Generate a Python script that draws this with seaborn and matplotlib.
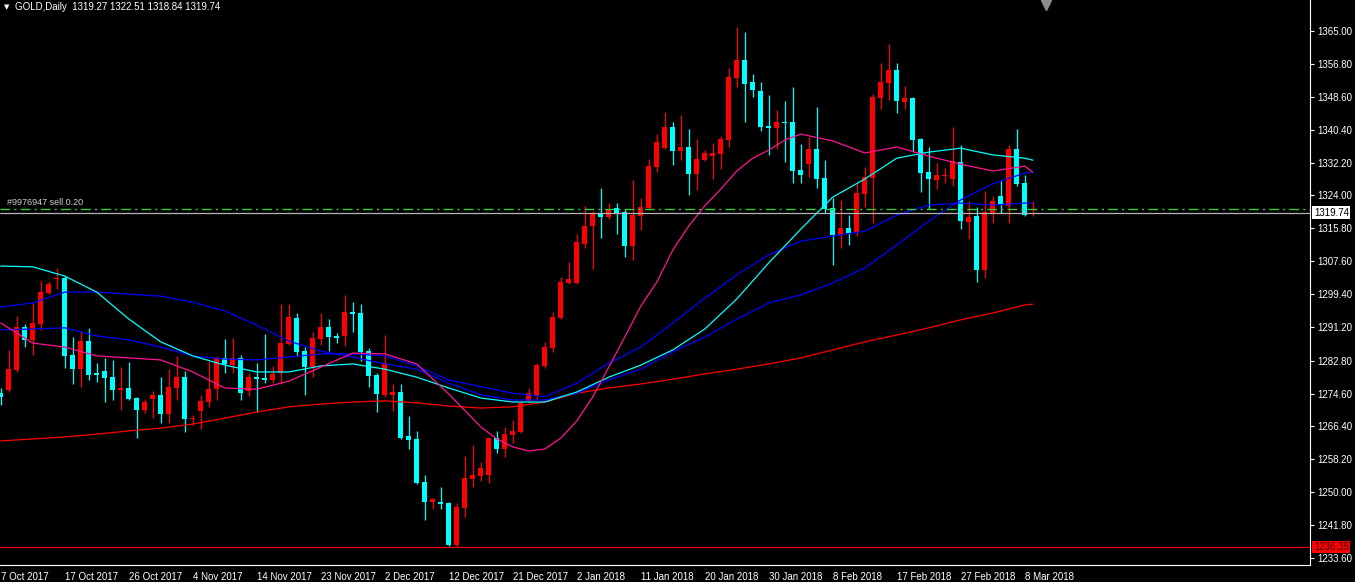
import seaborn as sns
import matplotlib.pyplot as plt

# ------------------------------ chart data ------------------------------------
# daily GOLD candles, one entry per bar (oldest first)
opens = [1274.7, 1275.5, 1280.5, 1291.2, 1288.0, 1292.0, 1299.7, 1303.2, 1303.4, 1284.2,
         1280.7, 1287.7, 1279.7, 1280.2, 1278.7, 1275.5, 1276.0, 1273.5, 1270.5, 1273.3,
         1274.3, 1269.5, 1276.0, 1278.7, 1268.3, 1270.3, 1272.5, 1275.8, 1283.5, 1281.7,
         1283.5, 1275.3, 1278.7, 1278.5, 1278.0, 1279.7, 1287.0, 1293.4, 1285.2, 1281.2,
         1288.2, 1291.2, 1289.0, 1289.0, 1294.9, 1294.7, 1285.2, 1279.2, 1274.3, 1274.3,
         1275.0, 1264.0, 1263.3, 1252.6, 1247.6, 1247.6, 1247.3, 1236.9, 1246.1, 1253.3,
         1254.1, 1254.3, 1263.5, 1260.8, 1264.3, 1265.0, 1272.8, 1274.0, 1281.5, 1286.0,
         1293.4, 1302.2, 1302.2, 1311.9, 1316.4, 1319.6, 1318.6, 1320.9, 1319.9, 1311.4,
         1318.9, 1320.9, 1331.1, 1335.8, 1341.1, 1335.1, 1336.1, 1329.4, 1332.8, 1333.8,
         1334.3, 1337.8, 1353.3, 1357.8, 1352.3, 1350.0, 1341.3, 1340.8, 1342.3, 1342.3,
         1330.3, 1331.8, 1335.6, 1328.4, 1320.9, 1314.1, 1315.9, 1314.9, 1324.4, 1328.4,
         1348.3, 1352.0, 1355.3, 1347.3, 1348.3, 1338.1, 1329.8, 1327.9, 1328.9, 1328.1,
         1332.3, 1317.4, 1318.9, 1305.4, 1319.6, 1323.9, 1321.4, 1335.6, 1327.1, 1319.27]
highs = [1276.0, 1285.5, 1293.9, 1292.0, 1297.2, 1302.7, 1302.7, 1305.9, 1303.9, 1288.7,
         1290.2, 1291.0, 1282.2, 1283.5, 1283.0, 1281.2, 1282.5, 1273.8, 1273.3, 1275.3,
         1278.7, 1280.7, 1284.0, 1280.2, 1269.3, 1274.3, 1282.7, 1284.0, 1288.2, 1288.5,
         1284.2, 1279.7, 1282.2, 1289.5, 1281.5, 1296.9, 1296.9, 1294.7, 1286.2, 1290.0,
         1294.7, 1293.2, 1289.7, 1299.2, 1297.4, 1296.9, 1286.0, 1279.7, 1289.2, 1277.0,
         1277.0, 1269.0, 1265.3, 1254.3, 1248.6, 1251.3, 1247.6, 1247.3, 1259.0, 1261.8,
         1257.5, 1263.8, 1265.3, 1266.3, 1268.0, 1273.0, 1276.0, 1282.2, 1287.5, 1294.9,
         1303.7, 1307.4, 1314.4, 1321.4, 1320.1, 1325.9, 1322.1, 1322.1, 1320.6, 1327.9,
         1323.4, 1333.1, 1339.3, 1344.8, 1342.3, 1344.1, 1340.6, 1338.1, 1335.3, 1337.1,
         1338.8, 1355.8, 1366.0, 1364.8, 1354.3, 1352.3, 1349.0, 1345.3, 1347.6, 1351.0,
         1336.8, 1338.6, 1346.1, 1332.8, 1323.4, 1322.9, 1319.1, 1327.4, 1331.1, 1349.3,
         1357.0, 1361.8, 1357.0, 1351.3, 1348.5, 1338.3, 1336.1, 1332.1, 1330.8, 1341.1,
         1336.6, 1322.6, 1321.1, 1325.1, 1323.9, 1327.9, 1336.6, 1340.6, 1329.1, 1322.51]
lows = [1271.8, 1275.0, 1280.0, 1286.2, 1284.2, 1290.5, 1299.4, 1300.7, 1281.0, 1277.0,
        1276.3, 1278.0, 1277.5, 1272.5, 1273.0, 1270.5, 1273.0, 1263.5, 1269.8, 1268.5,
        1267.3, 1267.3, 1273.0, 1265.0, 1266.8, 1265.8, 1271.3, 1273.0, 1279.7, 1279.7,
        1273.0, 1274.0, 1270.0, 1277.3, 1277.3, 1277.0, 1286.7, 1284.0, 1274.3, 1278.7,
        1286.7, 1285.2, 1287.2, 1286.5, 1290.0, 1282.7, 1276.3, 1270.0, 1273.8, 1270.3,
        1263.3, 1260.8, 1252.1, 1243.1, 1245.8, 1245.8, 1236.6, 1236.35, 1243.8, 1251.3,
        1252.8, 1252.3, 1259.8, 1258.8, 1262.3, 1264.8, 1272.6, 1273.0, 1281.0, 1285.0,
        1293.2, 1302.0, 1301.9, 1310.9, 1305.7, 1313.4, 1318.1, 1314.4, 1308.7, 1307.9,
        1315.4, 1320.4, 1329.8, 1335.6, 1331.6, 1332.8, 1324.1, 1325.4, 1332.6, 1328.1,
        1330.6, 1336.1, 1351.0, 1342.3, 1348.5, 1340.1, 1334.1, 1335.6, 1332.3, 1327.1,
        1327.1, 1328.6, 1325.9, 1319.6, 1306.7, 1310.9, 1311.7, 1313.9, 1321.1, 1317.1,
        1345.6, 1347.8, 1344.6, 1345.6, 1335.1, 1324.9, 1320.6, 1325.6, 1327.1, 1326.4,
        1315.6, 1313.1, 1302.4, 1303.4, 1317.1, 1319.6, 1317.1, 1326.4, 1318.9, 1318.84]
closes = [1273.8, 1280.7, 1291.2, 1288.0, 1292.2, 1299.9, 1301.9, 1303.4, 1284.0, 1280.7,
          1287.7, 1279.2, 1279.2, 1278.5, 1275.5, 1276.0, 1273.3, 1270.5, 1272.5, 1274.3,
          1269.5, 1276.3, 1278.7, 1268.3, 1268.5, 1272.8, 1275.8, 1283.5, 1282.0, 1283.5,
          1274.7, 1278.7, 1278.2, 1278.0, 1279.5, 1287.2, 1293.7, 1285.0, 1281.2, 1288.5,
          1291.2, 1288.7, 1288.5, 1294.9, 1294.4, 1285.0, 1279.0, 1274.5, 1282.2, 1275.0,
          1263.5, 1263.0, 1252.3, 1247.6, 1248.3, 1247.1, 1236.9, 1246.3, 1253.6, 1254.3,
          1256.1, 1263.5, 1260.8, 1264.5, 1265.3, 1272.3, 1274.7, 1281.7, 1286.2, 1293.7,
          1302.4, 1303.2, 1312.4, 1316.4, 1319.6, 1318.6, 1320.6, 1319.6, 1311.4, 1319.1,
          1321.1, 1331.3, 1337.3, 1341.1, 1335.1, 1336.1, 1329.4, 1333.1, 1334.6, 1334.6,
          1338.1, 1353.5, 1357.8, 1351.8, 1350.3, 1341.1, 1340.8, 1342.3, 1342.1, 1330.1,
          1329.1, 1335.6, 1328.1, 1320.6, 1314.1, 1315.9, 1314.6, 1324.6, 1328.6, 1348.5,
          1352.3, 1355.3, 1347.5, 1348.3, 1337.8, 1329.6, 1328.1, 1329.1, 1329.1, 1332.6,
          1317.6, 1318.6, 1305.4, 1319.9, 1322.6, 1321.6, 1335.6, 1326.9, 1319.1, 1319.74]

# moving averages, every 4th bar
ma_bars = list(range(0, 129, 4)) + [129]
ma_cyan = [1306.4, 1306.2, 1303.9, 1299.9, 1293.2, 1287.5, 1284.0, 1281.7, 1280.0, 1280.0,
           1281.5, 1282.0, 1280.7, 1278.7, 1276.0, 1273.5, 1272.5, 1272.5, 1275.0, 1278.7,
           1281.7, 1285.5, 1290.7, 1298.2, 1307.2, 1315.6, 1323.6, 1328.1, 1333.3, 1334.8,
           1335.8, 1334.1, 1333.3, 1332.8]
ma_blue_slow = [1296.2, 1297.2, 1299.9, 1299.9, 1299.4, 1298.9, 1297.4, 1295.2, 1291.7, 1287.7,
                1285.2, 1283.7, 1282.0, 1280.7, 1277.2, 1274.3, 1273.0, 1273.0, 1274.7, 1278.0,
                1280.7, 1285.0, 1288.7, 1293.2, 1297.2, 1299.2, 1302.2, 1305.9, 1311.7, 1317.6,
                1322.9, 1326.9, 1329.6, 1329.8]
ma_blue_fast = [1290.5, 1290.7, 1291.0, 1289.0, 1288.0, 1286.2, 1284.0, 1283.2, 1283.0, 1283.7,
                1284.5, 1284.5, 1284.0, 1281.5, 1278.0, 1276.3, 1274.7, 1273.8, 1277.2, 1282.2,
                1286.2, 1292.2, 1298.4, 1304.2, 1309.2, 1312.6, 1313.9, 1315.1, 1319.1, 1321.6,
                1322.1, 1321.6, 1322.1, 1322.1]
ma_red = [1262.8, 1263.3, 1263.8, 1264.5, 1265.3, 1266.0, 1267.0, 1268.5, 1270.0, 1271.3,
          1272.0, 1272.5, 1272.8, 1272.3, 1271.5, 1271.0, 1271.3, 1272.5, 1274.7, 1276.0,
          1277.0, 1278.2, 1279.5, 1280.7, 1282.0, 1283.5, 1285.5, 1287.5, 1289.2, 1291.0,
          1293.0, 1294.7, 1296.7, 1296.9]
# the fast pink average bends sharply, so it is read every 2nd bar through the swing
pink_bars = list(range(0, 60, 4)) + list(range(60, 100, 2)) + list(range(100, 129, 4)) + [129]
ma_pink = [1292.2, 1287.2, 1286.2, 1284.0, 1283.5, 1283.0, 1280.0, 1276.0, 1275.7, 1277.7,
           1281.2, 1284.7, 1284.5, 1282.0, 1274.5,
           1266.3, 1263.3, 1261.3, 1260.3, 1260.8, 1263.5, 1267.8, 1273.8, 1281.2, 1288.7,
           1296.4, 1302.4, 1310.4, 1316.4, 1321.4, 1325.6, 1330.1, 1333.3, 1335.3, 1337.8,
           1339.3, 1337.6, 1334.6, 1336.1, 1333.8, 1331.8, 1330.1, 1331.3, 1329.8]

label_bars = list(range(0, 129, 8))
date_labels = ["7 Oct 2017", "17 Oct 2017", "26 Oct 2017", "4 Nov 2017", "14 Nov 2017",
               "23 Nov 2017", "2 Dec 2017", "12 Dec 2017", "21 Dec 2017", "2 Jan 2018",
               "11 Jan 2018", "20 Jan 2018", "30 Jan 2018", "8 Feb 2018", "17 Feb 2018",
               "27 Feb 2018", "8 Mar 2018"]
price_ticks = [1365.00, 1356.80, 1348.60, 1340.40, 1332.20, 1324.00, 1315.80, 1307.60,
               1299.40, 1291.20, 1282.80, 1274.60, 1266.40, 1258.20, 1250.00, 1241.80, 1233.60]

bid_price = 1319.74
order_price = 1320.5
low_line = 1236.35

# ------------------------------ plotting --------------------------------------
sns.set_style("dark")
plt.rcParams['font.family'] = ['Liberation Sans', 'DejaVu Sans']

fig = plt.figure(figsize=(13.55, 5.82), dpi=100, facecolor='black')
ax = fig.add_axes([0, 17 / 582, 1310 / 1355, 565 / 582])
ax.set_facecolor('black')

up_col = '#ff0000'
down_col = '#00ffff'
bars = list(range(len(opens)))
for i in bars:
    col = up_col if closes[i] >= opens[i] else down_col
    ax.vlines(i, lows[i], highs[i], color=col, lw=0.9, zorder=2)
    bottom = min(opens[i], closes[i])
    height = max(abs(closes[i] - opens[i]), 0.3)
    ax.bar(i, height, bottom=bottom, width=0.62, color=col, linewidth=0, zorder=3)

# moving averages on top of the candles
for xs, vals, col in [(ma_bars, ma_red, '#ff0000'), (ma_bars, ma_blue_slow, '#0000ff'),
                      (ma_bars, ma_blue_fast, '#0000ff'), (ma_bars, ma_cyan, '#00ffff'),
                      (pink_bars, ma_pink, '#ff1493')]:
    sns.lineplot(x=xs, y=vals, color=col, lw=0.9, ax=ax, zorder=4)

# horizontal lines: order, bid, lowest low
ax.axhline(order_price, color='#32cd32', lw=1.0, ls=(0, (7, 3, 1.5, 3)), zorder=5)
ax.axhline(bid_price, color='#b4b4b4', lw=0.9, zorder=5)
ax.axhline(low_line, color='#ff0000', lw=0.8, zorder=5)

ax.set_xlim(-0.1, 163.65)
ax.set_ylim(1231.87, 1372.73)

# axes like the terminal: price scale on the right, dates at the bottom
for side in ['top', 'left']:
    ax.spines[side].set_visible(False)
for side in ['right', 'bottom']:
    ax.spines[side].set_visible(True)
    ax.spines[side].set_color('white')
    ax.spines[side].set_linewidth(0.8)
ax.grid(False)

ax.yaxis.tick_right()
ax.set_yticks(price_ticks)
ax.set_yticklabels([f"{p:.2f}" for p in price_ticks])
ax.set_xticks(label_bars)
ax.set_xticklabels(date_labels, ha='left')
ax.tick_params(axis='y', colors='white', labelsize=7, length=3, width=0.8, pad=2, direction='out')
ax.tick_params(axis='x', colors='white', labelsize=7, length=3, width=0.8, pad=2, direction='out')
ax.set_xlabel('')
ax.set_ylabel('')

# price boxes on the scale
ax.text(1.003, bid_price, f"{bid_price:.2f}", transform=ax.get_yaxis_transform(),
        ha='left', va='center', fontsize=7, color='black', clip_on=False, zorder=6,
        bbox=dict(boxstyle='square,pad=0.15', fc='white', ec='none'))
ax.text(1.003, low_line, f"{low_line:.2f}", transform=ax.get_yaxis_transform(),
        ha='left', va='center', fontsize=7, color='#300000', clip_on=False, zorder=6,
        bbox=dict(boxstyle='square,pad=0.15', fc='#ff0000', ec='none'))

# order label and chart header
ax.text(0.005, order_price + 0.6, "#9976947 sell 0.20", transform=ax.get_yaxis_transform(),
        ha='left', va='bottom', fontsize=6.5, color='#d0d0d0')
fig.text(4 / 1355, 1 - 7 / 582, "\u25bc", fontsize=5, color='white', va='center',
         family='DejaVu Sans')
fig.text(15 / 1355, 1 - 7 / 582, "GOLD,Daily  1319.27 1322.51 1318.84 1319.74",
         fontsize=7, color='white', va='center')

# chart shift marker at the top
ax.plot([130.6], [1371.6], marker='v', ms=7, color='#8c8c8c', clip_on=False, zorder=6)

fig.savefig("out.png", dpi=100, facecolor='black')
